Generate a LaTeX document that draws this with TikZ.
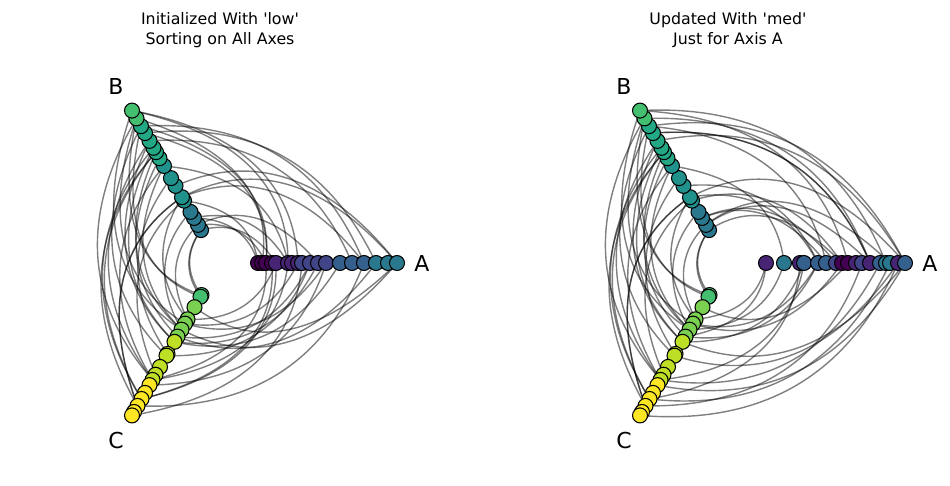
\documentclass[tikz,border=0pt]{standalone}
\usepackage{fontspec}
\setmainfont{DejaVu Sans}
\usetikzlibrary{calc, backgrounds}
\definecolor{vir0}{HTML}{440154}
\definecolor{vir1}{HTML}{482475}
\definecolor{vir2}{HTML}{414487}
\definecolor{vir3}{HTML}{355F8D}
\definecolor{vir4}{HTML}{2A788E}
\definecolor{vir5}{HTML}{21918C}
\definecolor{vir6}{HTML}{22A884}
\definecolor{vir7}{HTML}{44BF70}
\definecolor{vir8}{HTML}{7AD151}
\definecolor{vir9}{HTML}{BDDF26}
\definecolor{vir10}{HTML}{FDE725}
\tikzset{
  hnode/.style={circle, draw=black, line width=0.6pt, minimum size=0.3cm, inner sep=0pt},
  hedge/.style={black, opacity=0.5, line width=0.8pt},
  axlabel/.style={font=\fontsize{12.5}{14}\selectfont},
  title/.style={font=\fontsize{9}{11}\selectfont, align=center}
}
% one curved connector, bent towards the bisecting angle
\newcommand\hedge[4]{%
  \draw[hedge] let \p1=($(#2.center)-(#1o)$), \p2=($(#3.center)-(#1o)$),
    \n1={veclen(\x1,\y1)}, \n2={veclen(\x2,\y2)}, \n3={0.56*(\n1+\n2)} in
    (#2.center) .. controls ($(#2.center)!2/3!($(#1o)+(#4:\n3)$)$)
      and ($(#3.center)!2/3!($(#1o)+(#4:\n3)$)$) .. (#3.center);}
% #1 prefix, #2 centre x, #3 axis A radius/colour list, #4 nodes on A
\newcommand\hivepanel[4]{%
  \coordinate (#1o) at (#2,222);
  \foreach \r/\c [count=\k] in {#3}
    \node[hnode, fill=vir\c] (#1a\k) at ($(#1o)+(0:\r)$) {};
  \foreach \r/\c [count=\k] in {38/4,44/4,52/4,59/4,72/5,76/5,89/5,98/5,112/5,121/6,128/6,133/6,141/6,150/6,158/6,167/7,176/7}
    \node[hnode, fill=vir\c] (#1b\k) at ($(#1o)+(120:\r)$) {};
  \foreach \r/\c [count=\k] in {37/7,39/7,51/8,65/8,70/8,77/8,85/8,91/9,105/9,107/9,120/9,129/9,135/9,141/10,150/10,157/10,165/10,172/10,176/10}
    \node[hnode, fill=vir\c] (#1c\k) at ($(#1o)+(240:\r)$) {};
  \node[axlabel] at ($(#1o)+(0:202)$) {A};
  \node[axlabel] at ($(#1o)+(-104,177)$) {B};
  \node[axlabel] at ($(#1o)+(-104,-177)$) {C};
  \begin{pgfonlayer}{background}
    \pgfmathsetseed{11}
    \foreach \e in {1,...,60}{
      \pgfmathrandominteger{\t}{1}{4}
      \pgfmathrandominteger{\i}{1}{#4}
      \pgfmathrandominteger{\j}{1}{17}
      \pgfmathrandominteger{\m}{1}{19}
      \ifcase\t\or
        \hedge{#1}{#1a\i}{#1b\j}{60}
      \or
        \hedge{#1}{#1b\j}{#1c\m}{180}
      \or
        \hedge{#1}{#1c\m}{#1a\i}{300}
      \or
        \hedge{#1}{#1b\j}{#1c\m}{180}
      \fi
    }
  \end{pgfonlayer}}

\begin{document}
\begin{tikzpicture}[x=0.02cm, y=0.02cm]
\useasboundingbox (0,0) rectangle (950,485);

\node[title] (t1) at (220,455) {Initialized With \textquotesingle low\textquotesingle\\Sorting on All Axes};
\node[title] (t2) at (728,455) {Updated With \textquotesingle med\textquotesingle\\Just for Axis A};

\hivepanel{L}{220}{38/0,42/0,46/0,52/0,56/1,68/1,72/1,78/1,82/2,90/2,98/2,106/2,120/3,132/3,144/3,156/4,168/4,177/4}{18}
\hivepanel{R}{728}{38/1,56/4,72/1,76/3,90/3,98/3,108/2,114/0,120/0,128/1,134/2,142/1,152/3,158/4,162/4,170/1,177/3}{17}

\end{tikzpicture}
\end{document}
